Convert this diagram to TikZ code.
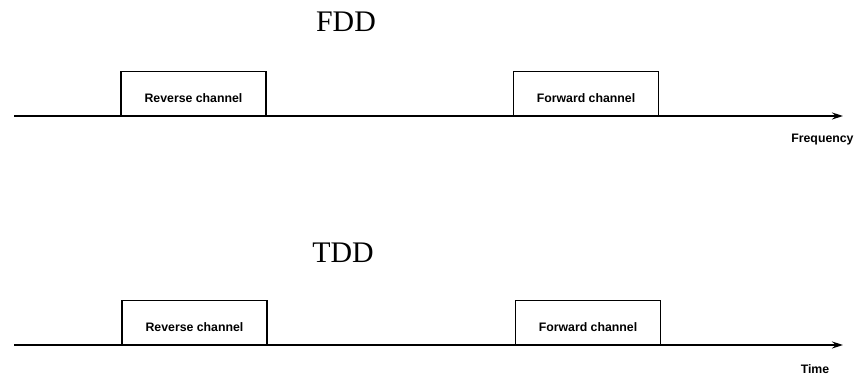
\documentclass[tikz,border=0pt]{standalone}
\usepackage{fontspec}
\setmainfont{Liberation Serif}
\setsansfont{Liberation Sans}
\usetikzlibrary{arrows.meta,positioning,calc}

\begin{document}
\begin{tikzpicture}[
    every node/.style={
        inner sep=0pt,
        align=center
    },
    title/.style={
        font=\fontsize{17}{20}\selectfont
    },
    channel/.style={
        draw=black,
        line width=0.6pt,
        minimum width=2.9cm,
        minimum height=0.88cm,
        text height=0.36cm,
        text depth=0pt,
        anchor=south,
        font=\sffamily\bfseries\fontsize{7}{8}\selectfont
    },
    axislabel/.style={
        font=\sffamily\bfseries\fontsize{7}{8}\selectfont
    },
    axis/.style={
        draw=black,
        line width=0.8pt,
        -{Stealth[length=2.2mm,width=1.4mm]}
    }
]

\useasboundingbox (0,0) rectangle (17.14,7.48);

% ============================================================
% FDD
% ============================================================

\node[title] (fdd) at (6.92,7.04) {FDD};

\coordinate (fddstart) at (0.28,5.16);
\coordinate (fddend) at (16.86,5.16);

\node[channel] (fddrev) at (3.87,5.16) {Reverse channel};
\node[channel] (fddfwd) at (11.72,5.16) {Forward channel};

\draw[axis] (fddstart) -- (fddend);

\node[axislabel, anchor=west] (freq) at (15.82,4.68) {Frequency};

% ============================================================
% TDD
% ============================================================

\node[title] (tdd) at (6.86,2.42) {TDD};

\coordinate (tddstart) at (0.28,0.58);
\coordinate (tddend) at (16.86,0.58);

\node[channel] (tddrev) at (3.89,0.58) {Reverse channel};
\node[channel] (tddfwd) at (11.76,0.58) {Forward channel};

\draw[axis] (tddstart) -- (tddend);

\node[axislabel] (time) at (16.3,0.1) {Time};

\end{tikzpicture}
\end{document}
